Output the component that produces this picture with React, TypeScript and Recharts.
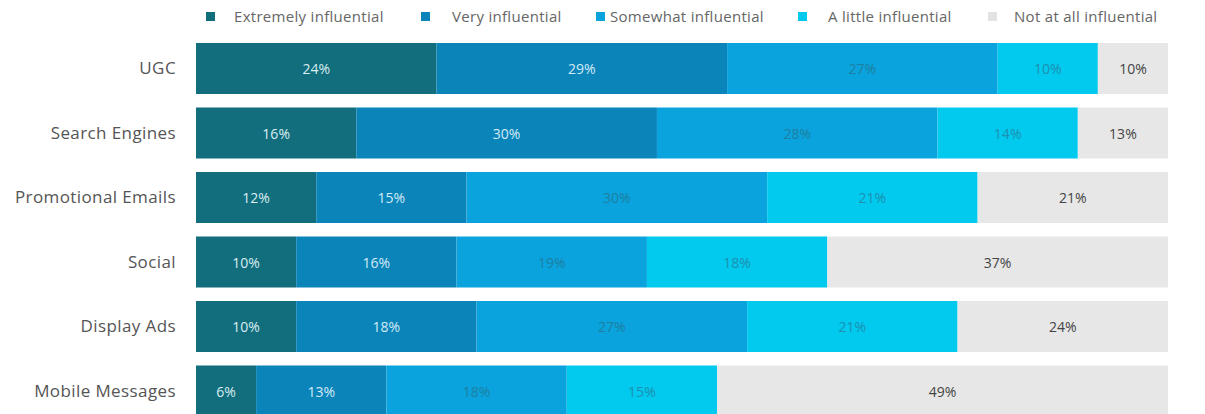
import React from 'react';
import { BarChart, Bar, XAxis, YAxis, LabelList, Legend } from 'recharts';

const categories = ['UGC', 'Search Engines', 'Promotional Emails', 'Social', 'Display Ads', 'Mobile Messages'];
const extremely = [24, 16, 12, 10, 10, 6];
const very = [29, 30, 15, 16, 18, 13];
const somewhat = [27, 28, 30, 19, 27, 18];
const little = [10, 14, 21, 18, 21, 15];
const notAtAll = [10, 13, 21, 37, 24, 49];

const seriesNames = ['Extremely influential', 'Very influential', 'Somewhat influential', 'A little influential', 'Not at all influential'];
const seriesKeys = ['extremely', 'very', 'somewhat', 'little', 'notAtAll'];
const seriesColors = ['#126d7c', '#0b84ba', '#0aa3de', '#02c9ee', '#e7e7e7'];
const labelColors = ['#d9eef2', '#d3ebf6', '#1f7f9e', '#1d90b0', '#444444'];
const legendMarkerX = [206, 421, 596, 798, 988];
const legendTextX = [234, 452, 610, 828, 1014];

const data = categories.map((name, i) => ({
  name,
  extremely: extremely[i],
  very: very[i],
  somewhat: somewhat[i],
  little: little[i],
  notAtAll: notAtAll[i],
}));

const W = 1205;
const H = 432;
const LEGEND_H = 30;
const margin = { top: 36 - LEGEND_H, right: 37, left: 0, bottom: 9 };
const plotRight = W - margin.right;
const FONT = '"Open Sans", Lato, sans-serif';

const makeLabel = (color: string, clampRight: boolean) => (props: any) => {
  const { x, y, width, height, value } = props;
  const right = clampRight ? Math.min(x + width, plotRight) : x + width;
  const cx = (x + right) / 2;
  return (
    <text
      x={cx}
      y={y + height / 2}
      textAnchor="middle"
      dominantBaseline="central"
      fill={color}
      fontSize={14}
      fontFamily={FONT}
    >
      {value}%
    </text>
  );
};

const LegendContent = () => (
  <div style={{ position: 'relative', width: W, height: LEGEND_H, fontFamily: FONT, fontSize: 15, color: '#666', letterSpacing: 0.3 }}>
    {seriesNames.map((n, i) => (
      <React.Fragment key={n}>
        <div
          style={{
            position: 'absolute',
            left: legendMarkerX[i],
            top: 12,
            width: 9,
            height: 9,
            background: i === 4 ? '#e3e3e3' : seriesColors[i],
          }}
        />
        <div style={{ position: 'absolute', left: legendTextX[i], top: 6, whiteSpace: 'nowrap', lineHeight: '20px' }}>{n}</div>
      </React.Fragment>
    ))}
  </div>
);

export default function App() {
  return (
    <div style={{ position: 'absolute', left: 0, top: 0, width: W, height: 414, overflow: 'hidden', background: '#fff' }}>
      <BarChart width={W} height={H} data={data} layout="vertical" margin={margin} barSize={51}>
        <XAxis type="number" domain={[0, 97]} allowDataOverflow hide />
        <YAxis
          type="category"
          dataKey="name"
          width={196}
          axisLine={false}
          tickLine={false}
          tickSize={0}
          tickMargin={20}
          tick={{ fill: '#555', fontSize: 17, fontFamily: FONT, letterSpacing: 0.4 }}
        />
        <Legend
          verticalAlign="top"
          align="left"
          height={LEGEND_H}
          wrapperStyle={{ top: 0, left: 0, width: W, height: LEGEND_H }}
          content={<LegendContent />}
        />
        {seriesKeys.map((k, i) => (
          <Bar key={k} dataKey={k} name={seriesNames[i]} stackId="a" fill={seriesColors[i]} isAnimationActive={false}>
            <LabelList dataKey={k} content={makeLabel(labelColors[i], i === 4)} />
          </Bar>
        ))}
      </BarChart>
    </div>
  );
}
